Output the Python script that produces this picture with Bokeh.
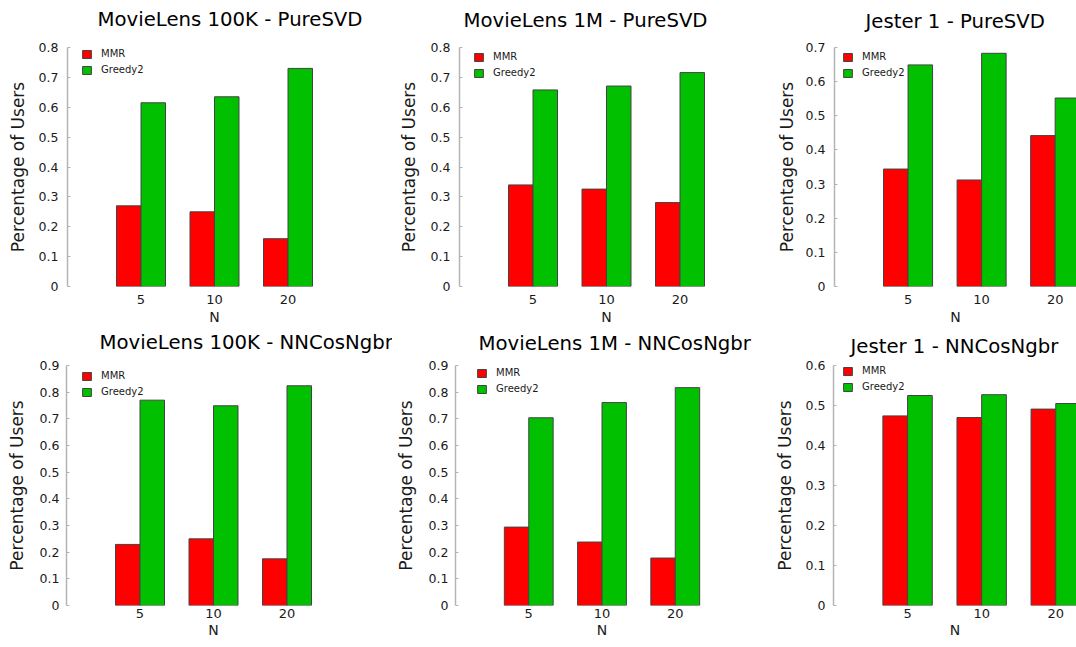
from bokeh.plotting import figure
from bokeh.layouts import column, row
from bokeh.models import Range1d, FixedTicker, CustomJSTickFormatter
from bokeh.embed import file_html
from bokeh.resources import INLINE

# ---------------- data ----------------
categories = ["5", "10", "20"]
series_names = ["MMR", "Greedy2"]

titles = [
    "MovieLens 100K - PureSVD",
    "MovieLens 1M - PureSVD",
    "Jester 1 - PureSVD",
    "MovieLens 100K - NNCosNgbr",
    "MovieLens 1M - NNCosNgbr",
    "Jester 1 - NNCosNgbr",
]
y_max = [0.8, 0.8, 0.7, 0.9, 0.9, 0.6]

mmr_ml100k_puresvd = [0.27, 0.25, 0.16]
greedy2_ml100k_puresvd = [0.615, 0.635, 0.73]
mmr_ml1m_puresvd = [0.34, 0.326, 0.281]
greedy2_ml1m_puresvd = [0.658, 0.671, 0.716]
mmr_jester_puresvd = [0.344, 0.312, 0.442]
greedy2_jester_puresvd = [0.649, 0.683, 0.552]
mmr_ml100k_nncos = [0.229, 0.25, 0.175]
greedy2_ml100k_nncos = [0.77, 0.749, 0.824]
mmr_ml1m_nncos = [0.294, 0.238, 0.178]
greedy2_ml1m_nncos = [0.704, 0.761, 0.817]
mmr_jester_nncos = [0.474, 0.47, 0.491]
greedy2_jester_nncos = [0.525, 0.527, 0.505]

mmr_values = [mmr_ml100k_puresvd, mmr_ml1m_puresvd, mmr_jester_puresvd,
              mmr_ml100k_nncos, mmr_ml1m_nncos, mmr_jester_nncos]
greedy2_values = [greedy2_ml100k_puresvd, greedy2_ml1m_puresvd, greedy2_jester_puresvd,
                  greedy2_ml100k_nncos, greedy2_ml1m_nncos, greedy2_jester_nncos]

# ---------------- layout / style ----------------
FONT = "DejaVu Sans"
RED = "#ff0000"
GREEN = "#00c000"
EDGE = "#444444"
AXIS_GRAY = "#b4b4b4"
TEXT = "#1a1a1a"

ROW1_SHIFT = -12   # top row starts slightly above the page top
ROW2_SHIFT = -23   # bottom row overlaps the lower border of the top row

# frames inside one row are aligned by Bokeh, so top/bottom borders are shared per row
panel_layout = [
    dict(width=380, height=347, mbl=67, mbr=19, mbt=59, mbb=49, x_end=3.0, t_off=30, t_stand=29,
         lg=(15, 2), xs=8, xls=2, ys=9, yls=8),
    dict(width=390, height=347, mbl=79, mbr=17, mbt=59, mbb=49, x_end=3.0, t_off=4, t_stand=27,
         lg=(15, 5), xs=8, xls=2, ys=9, yls=9),
    dict(width=306, height=347, mbl=64, mbr=0, mbt=59, mbb=49, x_end=2.29, t_off=31, t_stand=26,
         lg=(9, 5), xs=8, xls=2, ys=9, yls=6),
    dict(width=392, height=335, mbl=66, mbr=32, mbt=53, mbb=42, x_end=3.0, t_off=33, t_stand=19,
         lg=(16, 6), xs=3, xls=1, ys=7, yls=10),
    dict(width=378, height=335, mbl=62, mbr=22, mbt=53, mbb=42, x_end=3.0, t_off=23, t_stand=17,
         lg=(22, 3), xs=3, xls=1, ys=7, yls=10),
    dict(width=306, height=335, mbl=63, mbr=0, mbt=53, mbb=42, x_end=2.28, t_off=17, t_stand=11,
         lg=(10, 1), xs=3, xls=1, ys=8, yls=8),
]

BAR_W = 1.0 / 3.0
GLYPH_W, GLYPH_H = 11, 10
LEG_SPACING = 5
LEG_ITEM_H = 11


def make_panel(title, ymax, mmr, greedy, L):
    frame_h = L["height"] - L["mbt"] - L["mbb"]
    p = figure(
        width=L["width"], height=L["height"],
        x_range=Range1d(-1, L["x_end"]), y_range=Range1d(0, ymax),
        output_backend="svg", toolbar_location=None, tools="",
        min_border_left=L["mbl"], min_border_right=L["mbr"],
        min_border_top=L["mbt"], min_border_bottom=L["mbb"],
        title=title, outline_line_color=None,
        background_fill_color="white", border_fill_alpha=0,
    )
    p.title.text_font = FONT
    p.title.text_font_size = "19.7px"
    p.title.text_font_style = "normal"
    p.title.text_color = "#000000"
    p.title.align = "left"
    p.title.vertical_align = "top"
    p.title.offset = L["t_off"]
    p.title.standoff = L["t_stand"]

    idx = list(range(len(categories)))
    p.vbar(x=[i - BAR_W / 2 for i in idx], top=mmr, bottom=0, width=BAR_W,
           fill_color=RED, line_color=EDGE, line_width=1, legend_label=series_names[0])
    p.vbar(x=[i + BAR_W / 2 for i in idx], top=greedy, bottom=0, width=BAR_W,
           fill_color=GREEN, line_color=EDGE, line_width=1, legend_label=series_names[1])

    p.xgrid.visible = False
    p.ygrid.visible = False

    # x axis
    xa = p.xaxis[0]
    xa.ticker = FixedTicker(ticks=idx)
    xa.formatter = CustomJSTickFormatter(args=dict(cats=categories),
                                         code="const i = Math.round(tick); return (i >= 0 && i < cats.length) ? cats[i] : '';")
    xa.axis_line_color = None
    xa.major_tick_line_color = None
    xa.minor_tick_line_color = None
    xa.major_tick_in = 0
    xa.major_tick_out = 0
    xa.minor_tick_in = 0
    xa.minor_tick_out = 0
    xa.major_label_text_font = FONT
    xa.major_label_text_font_size = "13px"
    xa.major_label_text_color = TEXT
    xa.major_label_standoff = L["xs"]
    xa.axis_label = "N"
    xa.axis_label_text_font = FONT
    xa.axis_label_text_font_size = "14px"
    xa.axis_label_text_font_style = "normal"
    xa.axis_label_text_color = TEXT
    xa.axis_label_standoff = L["xls"]

    # y axis
    ya = p.yaxis[0]
    n_ticks = int(round(ymax * 10))
    ya.ticker = FixedTicker(ticks=[round(k / 10, 1) for k in range(n_ticks + 1)])
    ya.formatter = CustomJSTickFormatter(code="return Math.abs(tick) < 1e-9 ? '0' : tick.toFixed(1);")
    ya.axis_line_color = AXIS_GRAY
    ya.axis_line_width = 1.5
    ya.major_tick_line_color = AXIS_GRAY
    ya.major_tick_in = 3
    ya.major_tick_out = 0
    ya.minor_tick_line_color = None
    ya.minor_tick_in = 0
    ya.minor_tick_out = 0
    ya.major_label_text_font = FONT
    ya.major_label_text_font_size = "12.5px"
    ya.major_label_text_color = TEXT
    ya.major_label_standoff = L["ys"]
    ya.axis_label = "Percentage of Users"
    ya.axis_label_text_font = FONT
    ya.axis_label_text_font_size = "17px"
    ya.axis_label_text_font_style = "normal"
    ya.axis_label_text_color = TEXT
    ya.axis_label_standoff = L["yls"]

    lg = p.legend[0]
    lg.glyph_width = GLYPH_W
    lg.glyph_height = GLYPH_H
    lg.label_height = GLYPH_H
    lg.label_width = 10
    lg.spacing = LEG_SPACING
    lg.padding = 0
    lg.margin = 0
    lg.border_line_color = None
    lg.background_fill_alpha = 0
    lg.label_text_font = FONT
    lg.label_text_font_size = "10px"
    lg.label_text_color = TEXT
    lg.label_standoff = 9
    legend_h = 2 * LEG_ITEM_H + LEG_SPACING
    dx, dy = L["lg"]
    lg.location = (dx - 1, frame_h - (dy - 1) - legend_h)
    return p


panels = [make_panel(titles[k], y_max[k], mmr_values[k], greedy2_values[k], panel_layout[k])
          for k in range(6)]

top_row = row(*panels[:3], spacing=0, margin=(ROW1_SHIFT, 0, 0, 0))
bottom_row = row(*panels[3:], spacing=0, margin=(ROW2_SHIFT, 0, 0, 0))
layout = column(top_row, bottom_row, spacing=0)

open("out.html", "w").write(file_html(layout, INLINE))
